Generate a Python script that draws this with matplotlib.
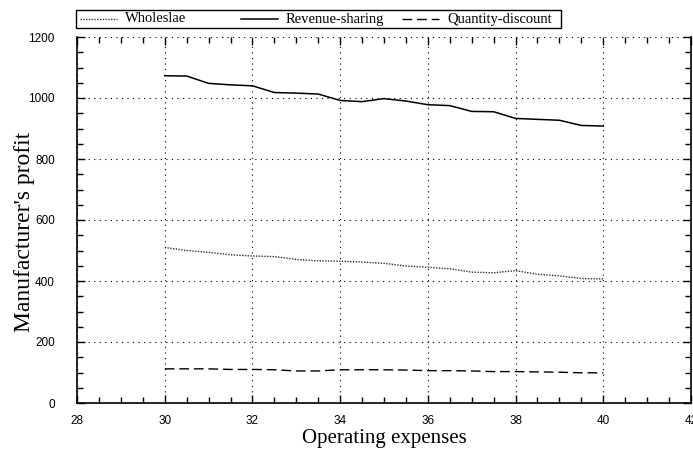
import matplotlib
matplotlib.use("Agg")
import matplotlib.pyplot as plt
from matplotlib.ticker import MultipleLocator
from matplotlib.lines import Line2D
from matplotlib.patches import Rectangle

# Operating expenses (x) and manufacturer's profit under three contracts
expenses = [30, 30.5, 31, 31.5, 32, 32.5, 33, 33.5, 34, 34.5, 35,
            35.5, 36, 36.5, 37, 37.5, 38, 38.5, 39, 39.5, 40]
wholesale = [510, 500, 494, 486, 482, 480, 471, 466, 465, 462, 458,
             449, 445, 440, 429, 427, 434, 422, 417, 408, 407]
revenue_sharing = [1073, 1072, 1048, 1043, 1040, 1018, 1016, 1013, 992, 988, 998,
                   990, 978, 975, 956, 955, 933, 930, 927, 910, 908]
quantity_discount = [112, 112, 112, 110, 110, 109, 105, 105, 109, 109, 109,
                     108, 106, 106, 105, 103, 103, 102, 101, 99, 99]

series_names = ["Wholeslae", "Revenue-sharing", "Quantity-discount"]

W, H = 693, 457
fig = plt.figure(figsize=(W / 100, H / 100), dpi=100)
ax = fig.add_axes([77 / W, 1 - 403 / H, 614 / W, 366 / H])

styles = [
    dict(color="#333333", linestyle=(0, (1, 1)), linewidth=1.0),
    dict(color="black", linestyle="-", linewidth=1.1),
    dict(color="black", linestyle=(0, (7, 3.5)), linewidth=1.0),
]
for ys, st in zip([wholesale, revenue_sharing, quantity_discount], styles):
    ax.plot(expenses, ys, **st)

ax.set_xlim(28, 42)
ax.set_ylim(0, 1200)
ax.xaxis.set_major_locator(MultipleLocator(2))
ax.xaxis.set_minor_locator(MultipleLocator(0.5))
ax.yaxis.set_major_locator(MultipleLocator(200))
ax.yaxis.set_minor_locator(MultipleLocator(50))

ax.grid(True, which="major", color="black", linestyle=(0, (1, 4)), linewidth=0.8)
ax.tick_params(which="both", direction="in", top=True, right=True, labelsize=8.5)
ax.tick_params(axis="x", which="major", pad=9)
ax.tick_params(axis="y", which="major", pad=16)
ax.tick_params(which="major", length=6, width=1)
ax.tick_params(which="minor", length=4, width=1)
for lab in ax.get_xticklabels() + ax.get_yticklabels():
    lab.set_family("Liberation Sans")

ax.spines["top"].set_visible(False)
for s in ("left", "bottom", "right"):
    ax.spines[s].set_linewidth(1.2)

ax.set_xlabel("Operating expenses", family="Liberation Serif", fontsize=15, labelpad=1)
ax.set_ylabel("Manufacturer's profit", family="Liberation Serif", fontsize=17)
ax.yaxis.set_label_coords(-0.068, 0.467)

# Legend drawn as a framed row of equally spaced entries above the axes
def fx(px):
    return px / W

def fy(py):
    return 1 - py / H

fig.add_artist(Rectangle((fx(76), fy(28)), fx(561) - fx(76), fy(10) - fy(28),
                         transform=fig.transFigure, facecolor="white",
                         edgecolor="black", linewidth=1.0))
for i, (name, st) in enumerate(zip(series_names, styles)):
    x0 = 80 + 161 * i
    fig.add_artist(Line2D([fx(x0), fx(x0 + 37)], [fy(19), fy(19)],
                          transform=fig.transFigure, **st))
    fig.text(fx(x0 + 45), fy(19), name, family="Liberation Serif",
             fontsize=10.5, va="center", ha="left")

fig.savefig("out.png", dpi=100)
